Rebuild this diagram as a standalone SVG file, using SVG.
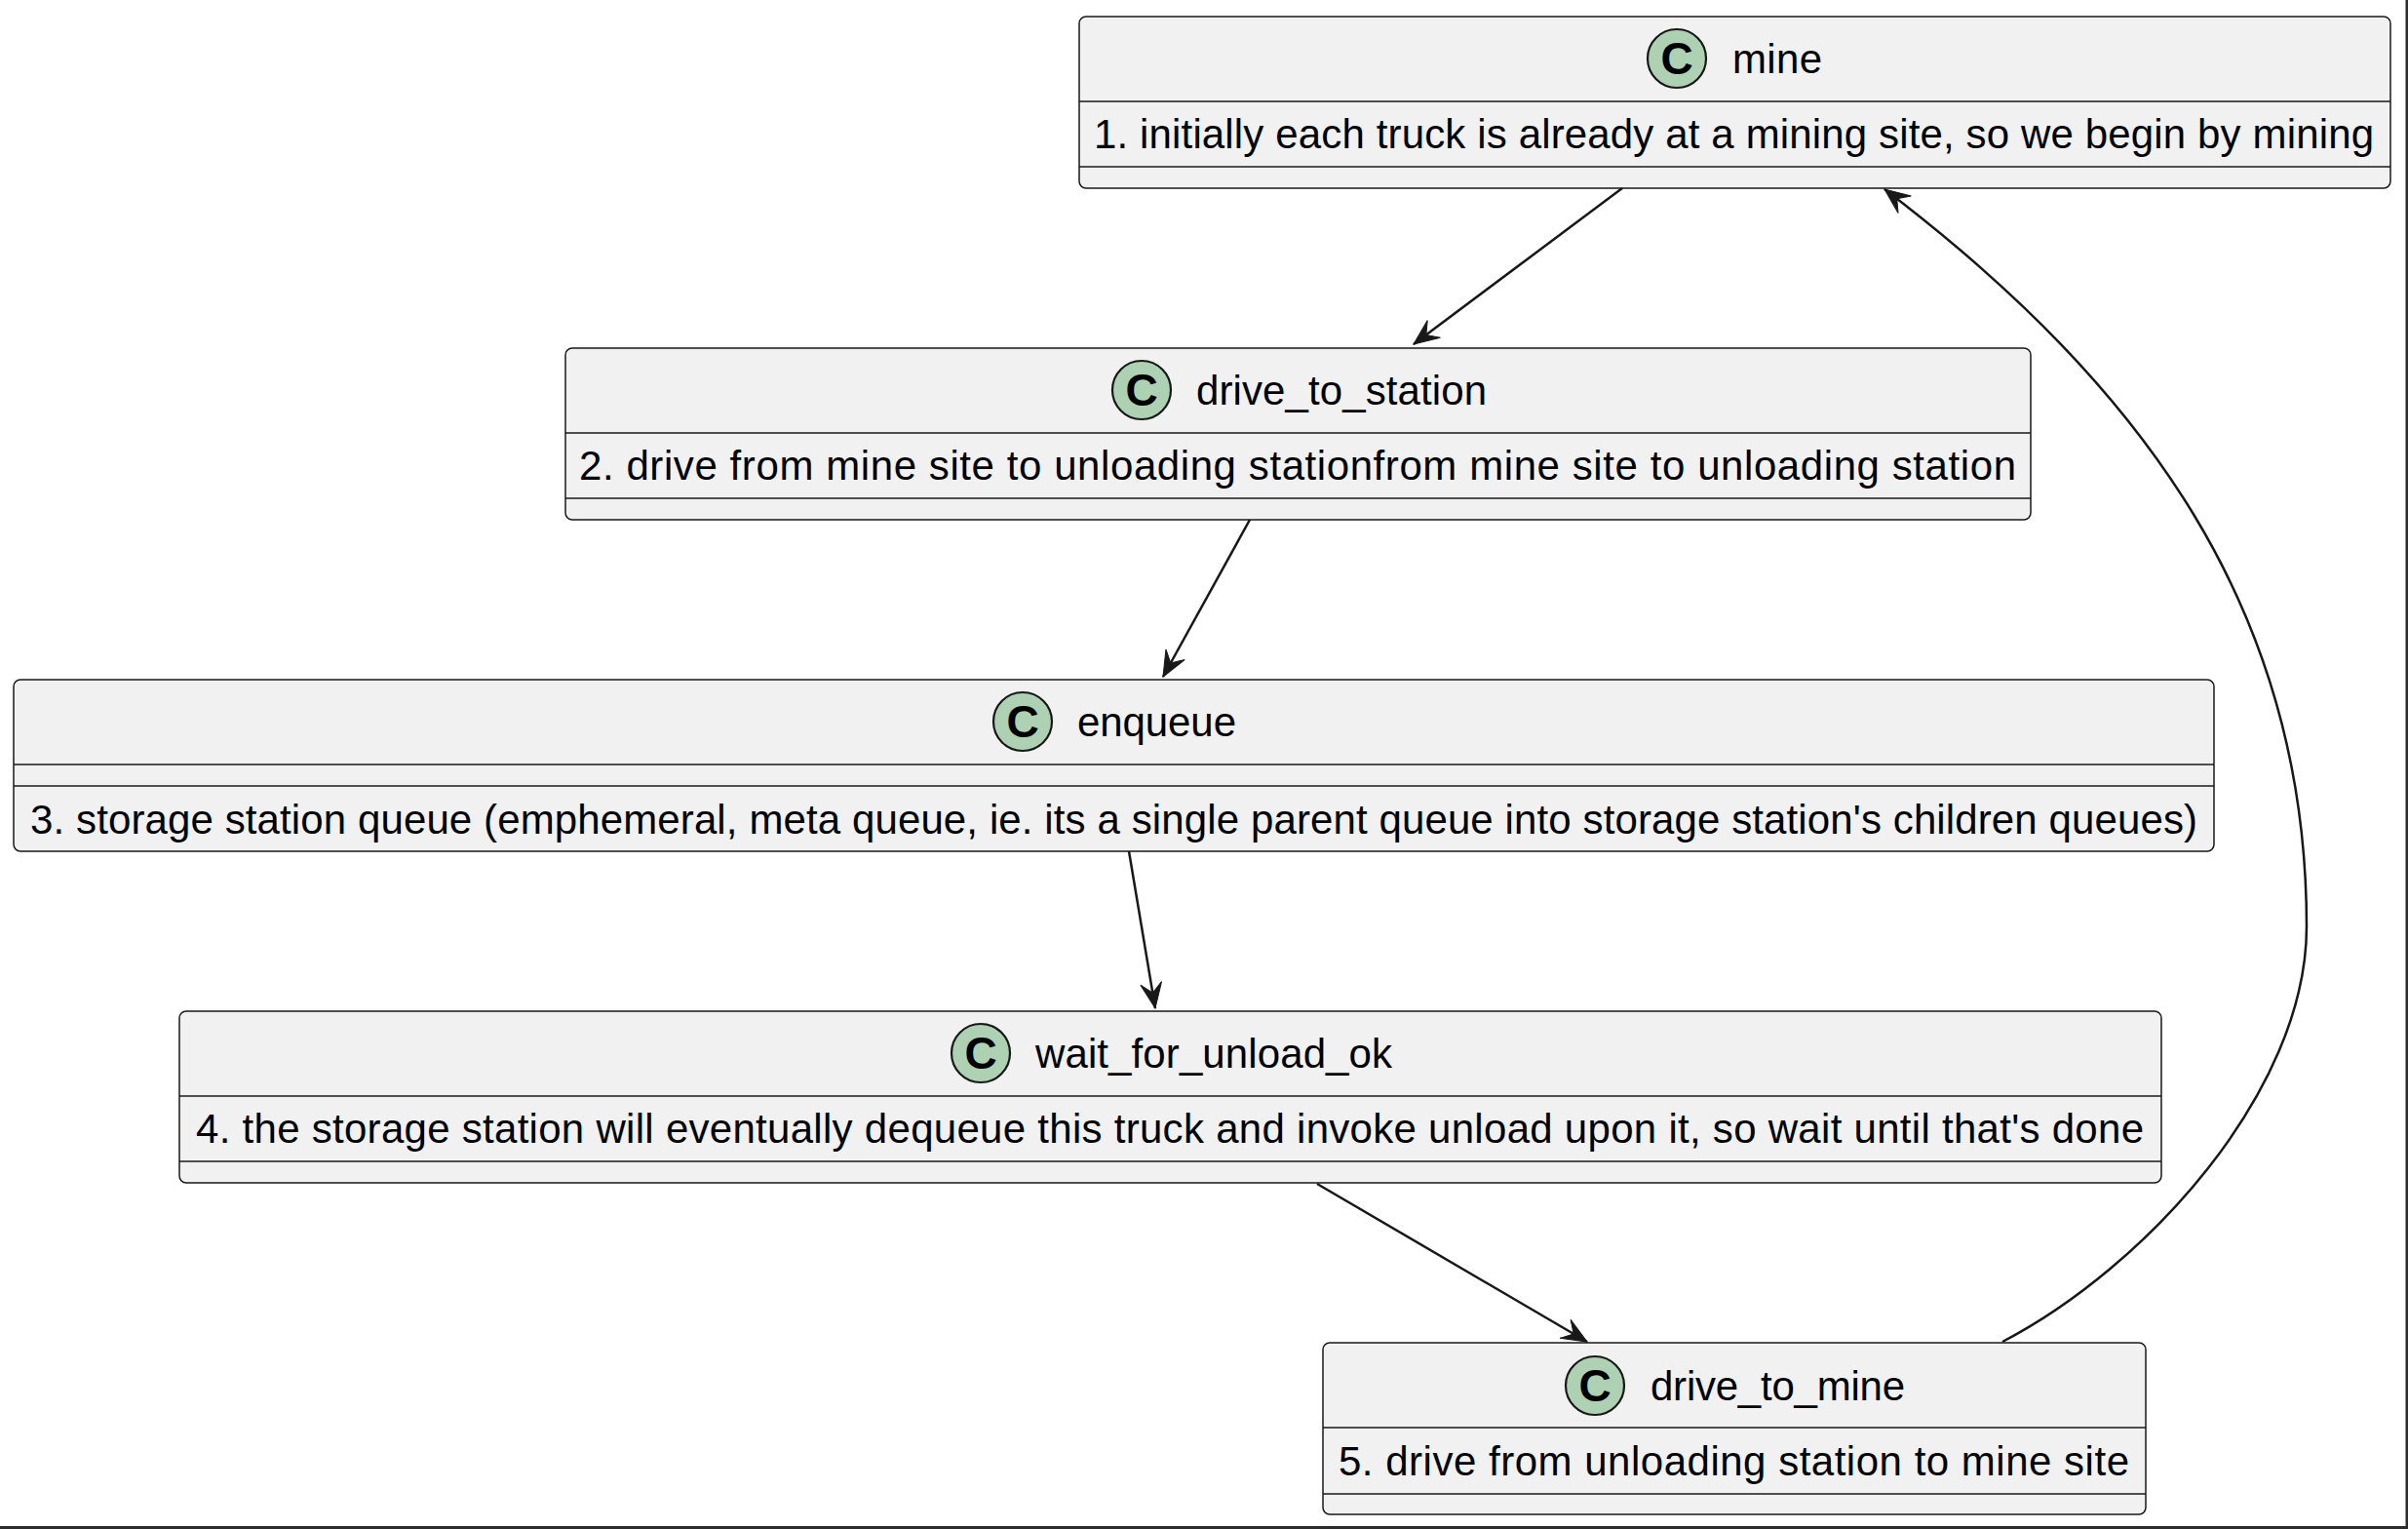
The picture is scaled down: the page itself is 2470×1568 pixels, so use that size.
<svg xmlns="http://www.w3.org/2000/svg" width="2470" height="1568" viewBox="0 0 2470 1568">
<style>
.box{fill:#F1F1F1;stroke:#181818;stroke-width:1.5}
.sep{stroke:#181818;stroke-width:1.5}
.spot{fill:#ADD1B2;stroke:#181818;stroke-width:2.2}
.spotc{font-family:"Liberation Sans",Arial,sans-serif;font-weight:bold;font-size:46px;fill:#000;text-anchor:middle}
.title{font-family:"Liberation Sans",Arial,sans-serif;font-size:42px;fill:#000}
.body{font-family:"Liberation Sans",Arial,sans-serif;font-size:42px;fill:#000}
.edge{fill:none;stroke:#181818;stroke-width:2.5}
</style>
<defs>
<marker id="arr" markerUnits="userSpaceOnUse" viewBox="-30 -14 32 28" refX="0" refY="0" markerWidth="32" markerHeight="28" orient="auto">
<path d="M0,0 L-26,-11 L-16,0 L-26,11 Z" fill="#181818" stroke="#181818" stroke-width="1"/>
</marker>
</defs>
<rect x="0" y="0" width="2470" height="1568" fill="#FFFFFF"/>

<g id="mine">
<rect class="box" x="1107" y="17" width="1345" height="176" rx="7"/>
<line class="sep" x1="1107" y1="104" x2="2452" y2="104"/>
<line class="sep" x1="1107" y1="171" x2="2452" y2="171"/>
<circle class="spot" cx="1720" cy="60" r="30"/>
<text class="spotc" x="1720" y="76">C</text>
<text class="title" x="1777" y="75" textLength="92" lengthAdjust="spacing">mine</text>
<text class="body" x="1122" y="152" textLength="1313" lengthAdjust="spacing">1. initially each truck is already at a mining site, so we begin by mining</text>
</g>

<g id="drive_to_station">
<rect class="box" x="580" y="357" width="1503" height="176" rx="7"/>
<line class="sep" x1="580" y1="444" x2="2083" y2="444"/>
<line class="sep" x1="580" y1="511" x2="2083" y2="511"/>
<circle class="spot" cx="1171" cy="400" r="30"/>
<text class="spotc" x="1171" y="416">C</text>
<text class="title" x="1227" y="415" textLength="298" lengthAdjust="spacing">drive_to_station</text>
<text class="body" x="594" y="492" textLength="1474" lengthAdjust="spacing">2. drive from mine site to unloading stationfrom mine site to unloading station</text>
</g>

<g id="enqueue">
<rect class="box" x="14" y="697" width="2257" height="176" rx="7"/>
<line class="sep" x1="14" y1="784" x2="2271" y2="784"/>
<line class="sep" x1="14" y1="806" x2="2271" y2="806"/>
<circle class="spot" cx="1049" cy="740" r="30"/>
<text class="spotc" x="1049" y="756">C</text>
<text class="title" x="1105" y="755" textLength="163" lengthAdjust="spacing">enqueue</text>
<text class="body" x="31" y="855" textLength="2223" lengthAdjust="spacing">3. storage station queue (emphemeral, meta queue, ie. its a single parent queue into storage station's children queues)</text>
</g>

<g id="wait_for_unload_ok">
<rect class="box" x="184" y="1037" width="2033" height="176" rx="7"/>
<line class="sep" x1="184" y1="1124" x2="2217" y2="1124"/>
<line class="sep" x1="184" y1="1191" x2="2217" y2="1191"/>
<circle class="spot" cx="1006" cy="1080" r="30"/>
<text class="spotc" x="1006" y="1096">C</text>
<text class="title" x="1062" y="1095" textLength="366" lengthAdjust="spacing">wait_for_unload_ok</text>
<text class="body" x="201" y="1172" textLength="1998" lengthAdjust="spacing">4. the storage station will eventually dequeue this truck and invoke unload upon it, so wait until that's done</text>
</g>

<g id="drive_to_mine">
<rect class="box" x="1357" y="1377" width="844" height="176" rx="7"/>
<line class="sep" x1="1357" y1="1464" x2="2201" y2="1464"/>
<line class="sep" x1="1357" y1="1532" x2="2201" y2="1532"/>
<circle class="spot" cx="1636" cy="1421" r="30"/>
<text class="spotc" x="1636" y="1437">C</text>
<text class="title" x="1693" y="1436" textLength="261" lengthAdjust="spacing">drive_to_mine</text>
<text class="body" x="1373" y="1513" textLength="811" lengthAdjust="spacing">5. drive from unloading station to mine site</text>
</g>

<g id="connectors">
<path class="edge" d="M1664,193 L1450,353" marker-end="url(#arr)"/>
<path class="edge" d="M1282,533 L1193,694" marker-end="url(#arr)"/>
<path class="edge" d="M1158,873 L1185,1034" marker-end="url(#arr)"/>
<path class="edge" d="M1351,1214 L1628,1376" marker-end="url(#arr)"/>
<path class="edge" d="M2054,1376 C2200,1300 2366,1120 2366,950 C2366,630 2204,400 1933,194" marker-end="url(#arr)"/>
</g>

<rect x="2467.5" y="0" width="2.5" height="1568" fill="#2b2b2b"/>
<rect x="0" y="1565" width="2470" height="3" fill="#2b2b2b"/>
</svg>
